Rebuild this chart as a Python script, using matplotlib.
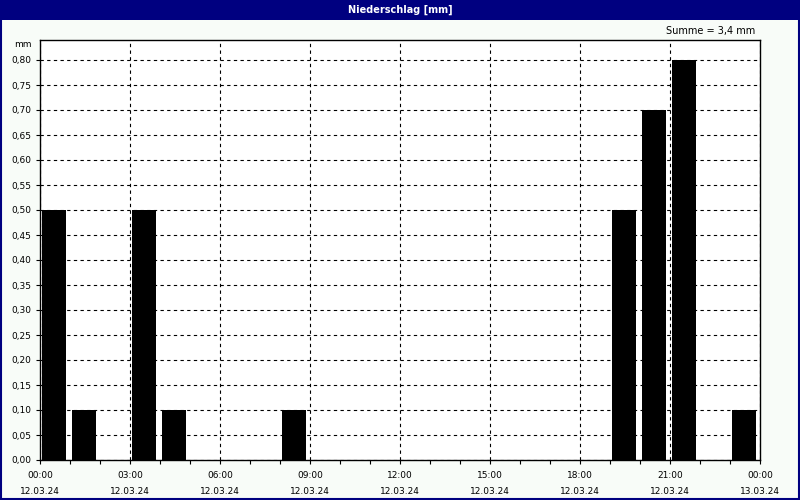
import matplotlib.pyplot as plt
from matplotlib.patches import Rectangle
from matplotlib.ticker import MultipleLocator, FixedLocator

# hourly precipitation, 12.03.24
hours = list(range(24))
niederschlag = [0.5, 0.1, 0.0, 0.5, 0.1, 0.0, 0.0, 0.0, 0.1, 0.0, 0.0, 0.0,
                0.0, 0.0, 0.0, 0.0, 0.0, 0.0, 0.0, 0.5, 0.7, 0.8, 0.0, 0.1]
tick_hours = [0, 3, 6, 9, 12, 15, 18, 21, 24]
tick_labels = ["00:00\n12.03.24", "03:00\n12.03.24", "06:00\n12.03.24",
               "09:00\n12.03.24", "12:00\n12.03.24", "15:00\n12.03.24",
               "18:00\n12.03.24", "21:00\n12.03.24", "00:00\n13.03.24"]
y_ticks = [i * 0.05 for i in range(17)]

navy = "#000080"
plt.rcParams["font.family"] = ["DejaVu Sans"]
plt.rcParams["font.size"] = 6.5

fig = plt.figure(figsize=(8, 5), dpi=100, facecolor="#f8fcf8")

# title bar + border
fig.patches.append(Rectangle((0, 0.96), 1, 0.04, transform=fig.transFigure,
                             facecolor=navy, edgecolor="none", zorder=0))
fig.patches.append(Rectangle((0.001, 0.002), 0.998, 0.997, transform=fig.transFigure,
                             facecolor="none", edgecolor=navy, linewidth=1.5, zorder=0))
fig.text(0.5, 0.981, "Niederschlag [mm]", color="white", fontweight="bold",
         ha="center", va="center", fontsize=7)
fig.text(0.944, 0.938, "Summe = 3,4 mm", ha="right", va="center", fontsize=7)

ax = fig.add_axes([0.05, 0.08, 0.9, 0.84])
ax.set_facecolor("white")
ax.bar([h + 0.07 for h in hours], niederschlag, width=0.8, align="edge",
       color="black", zorder=3)

ax.set_xlim(0, 24)
ax.set_ylim(0, 0.84)
ax.xaxis.set_major_locator(FixedLocator(tick_hours))
ax.xaxis.set_minor_locator(MultipleLocator(1))
ax.set_xticklabels(tick_labels, linespacing=2.0)
ax.set_yticks(y_ticks)
ax.set_yticklabels([("%.2f" % v).replace(".", ",") for v in y_ticks])

ax.grid(True, which="major", color="black", linestyle=(0, (3, 3)), linewidth=0.8, zorder=1)
ax.tick_params(which="both", direction="out", length=3, width=0.8, color="black")
ax.tick_params(axis="x", pad=5)
for s in ax.spines.values():
    s.set_color("black")
    s.set_linewidth(1)

ax.text(-0.012, 1.0, "mm", transform=ax.transAxes, ha="right", va="top", fontsize=6.5)

fig.savefig("out.png", dpi=100, facecolor=fig.get_facecolor())
